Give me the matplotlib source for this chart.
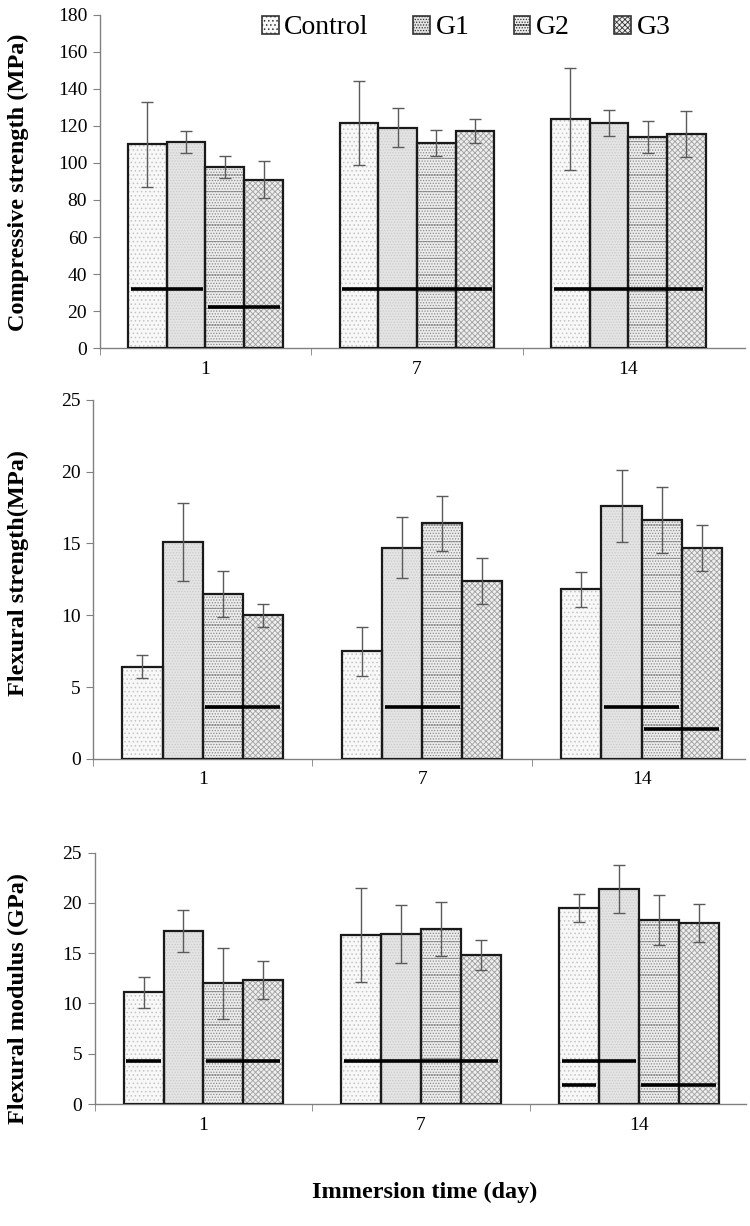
import matplotlib
matplotlib.use("Agg")
import matplotlib.pyplot as plt
from matplotlib.patches import Patch
import numpy as np

plt.rcParams["font.family"] = ["Liberation Serif", "DejaVu Serif"]
plt.rcParams["hatch.linewidth"] = 0.6

# ── data ──
days = ["1", "7", "14"]
groups = ["Control", "G1", "G2", "G3"]

comp_mean = [[110, 121.5, 123.5], [111.5, 119, 121.5], [98, 111, 114], [91, 117, 115.5]]
comp_err = [[23, 22.5, 27.5], [6, 10.5, 7], [6, 7, 8.5], [10, 6.5, 12.5]]
# significance lines: (day index, first group, last group, level)
comp_lines = [(0, 0, 1, 32), (0, 2, 3, 22), (1, 0, 3, 32), (2, 0, 3, 32)]

flex_mean = [[6.4, 7.5, 11.8], [15.1, 14.7, 17.6], [11.5, 16.4, 16.6], [10.0, 12.4, 14.7]]
flex_err = [[0.8, 1.7, 1.2], [2.7, 2.1, 2.5], [1.6, 1.9, 2.3], [0.8, 1.6, 1.6]]
flex_lines = [(0, 2, 3, 3.6), (1, 1, 2, 3.6), (2, 1, 2, 3.6), (2, 2, 3, 2.1)]

mod_mean = [[11.1, 16.8, 19.5], [17.2, 16.9, 21.4], [12.0, 17.4, 18.3], [12.3, 14.8, 18.0]]
mod_err = [[1.5, 4.7, 1.4], [2.05, 2.9, 2.4], [3.5, 2.7, 2.5], [1.9, 1.5, 1.9]]
mod_lines = [(0, 0, 0, 4.3), (0, 2, 3, 4.3), (1, 0, 3, 4.3),
             (2, 0, 1, 4.3), (2, 0, 0, 1.9), (2, 2, 3, 1.9)]

# ── style ──
FACES = ["#f8f8f8", "#e4e4e4", "#ececec", "#eeeeee"]
HATCHES = ["....", "......", "-......", "xxxxxx"]
HATCH_COL = ["#c4c4c4", "#cbcbcb", "#8a8a8a", "#a0a0a0"]
BAR_W = 0.183
AX_GREY = "#808080"


def draw_panel(ax, means, errs, lines, ymax, ystep, xmax):
    x = np.arange(len(days))
    offsets = (np.arange(len(groups)) - 1.5) * BAR_W
    for gi in range(len(groups)):
        xs = x + offsets[gi]
        # hatch fill first, black outline drawn over it
        ax.bar(xs, means[gi], BAR_W, color=FACES[gi], hatch=HATCHES[gi],
               edgecolor=HATCH_COL[gi], linewidth=0, zorder=2)
        ax.bar(xs, means[gi], BAR_W, fill=False, edgecolor="#1a1a1a",
               linewidth=1.6, zorder=3)
        ax.errorbar(xs, means[gi], yerr=errs[gi], fmt="none", ecolor="#5a5a5a",
                    elinewidth=1.0, capsize=4.5, capthick=1.0, zorder=4)
    for di, g0, g1, lvl in lines:
        x0 = x[di] + offsets[g0] - BAR_W / 2
        x1 = x[di] + offsets[g1] + BAR_W / 2
        ax.plot([x0 + 0.012, x1 - 0.012], [lvl, lvl], color="black", lw=2.6,
                zorder=5, solid_capstyle="butt")

    ax.set_xlim(-0.5, xmax)
    ax.set_ylim(0, ymax)
    ax.set_yticks(np.arange(0, ymax + 0.1, ystep))
    ax.set_xticks(x)
    ax.set_xticklabels(days)
    ax.set_xticks([-0.5, 0.5, 1.5], minor=True)
    ax.tick_params(axis="x", which="major", length=0, labelsize=14, pad=9)
    ax.tick_params(axis="x", which="minor", length=5, color=AX_GREY, direction="out")
    ax.tick_params(axis="y", length=5, color=AX_GREY, labelsize=14, direction="out", pad=4)
    for s in ("top", "right"):
        ax.spines[s].set_visible(False)
    for s in ("left", "bottom"):
        ax.spines[s].set_color(AX_GREY)
        ax.spines[s].set_linewidth(1.0)


fig = plt.figure(figsize=(7.5, 12.26), dpi=100)
ax1 = fig.add_axes([0.133, 0.716, 0.860, 0.272])
ax2 = fig.add_axes([0.124, 0.381, 0.869, 0.293])
ax3 = fig.add_axes([0.126, 0.0995, 0.868, 0.205])

draw_panel(ax1, comp_mean, comp_err, comp_lines, 180, 20, 2.55)
draw_panel(ax2, flex_mean, flex_err, flex_lines, 25, 5, 2.47)
draw_panel(ax3, mod_mean, mod_err, mod_lines, 25, 5, 2.49)

# label centres in pixels from the top
ylabels = [("Compressive strength (MPa)", 182),
           ("Flexural strength(MPa)", 573),
           ("Flexural modulus (GPa)", 998)]
for lab, yc in ylabels:
    fig.text(0.024, 1 - yc / 1226, lab, rotation=90, ha="center", va="center",
             fontsize=17.5, fontweight="bold")

proxies = [Patch(facecolor=FACES[i], hatch=HATCHES[i], edgecolor="#333333", linewidth=1.2)
           for i in range(len(groups))]
fig.legend(proxies, groups, loc="center left", bbox_to_anchor=(262 / 750, 1 - 28 / 1226),
           bbox_transform=fig.transFigure, ncol=4, frameon=False, fontsize=20,
           handlelength=0.6, handleheight=0.6, handletextpad=0.2, columnspacing=1.6,
           borderpad=0, borderaxespad=0)

fig.text(425 / 750, 1 - 1192 / 1226, "Immersion time (day)", ha="center", va="center",
         fontsize=17.5, fontweight="bold")

fig.savefig("out.png", dpi=100)
